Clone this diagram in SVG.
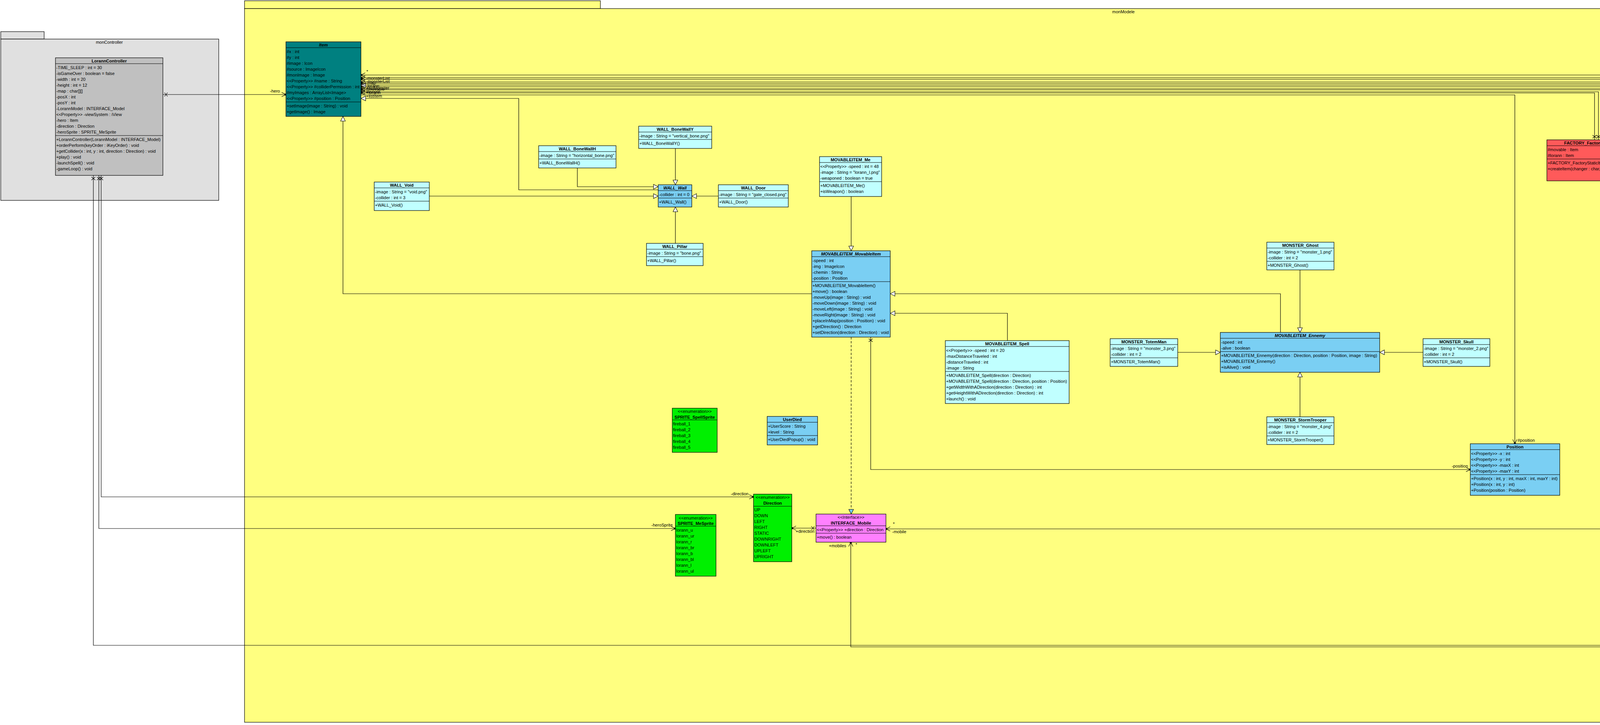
<svg xmlns="http://www.w3.org/2000/svg" width="5719" height="1856" viewBox="0 0 5719 1856">
<style>
text{font-family:"Liberation Sans",Arial,sans-serif;font-size:11px;fill:#000}
.b{font-weight:bold}
.i{font-style:italic}
.c{text-anchor:middle}
.e{text-anchor:end}
.box{stroke:#000;stroke-width:1.2}
.cy{fill:#C0FFFF}.bl{fill:#7ACFF3}.gr{fill:#00F000}.pk{fill:#FF80FF}.rd{fill:#FF5A5A}.gy{fill:#C0C0C0}.tl{fill:#008080}.rp{fill:#FF8080}
.pkg{fill:#E0E0E0;stroke:#000;stroke-width:1.2}
.ypkg{fill:#FFFF80;stroke:#000;stroke-width:1.2}
.ppkg{fill:#FFC0C0;stroke:#000;stroke-width:1.2}
.sep{stroke:#000;stroke-width:1.2;fill:none}
.ln{stroke:#000;stroke-width:1.2;fill:none}
.as{marker-start:url(#xm);marker-end:url(#nav)}
.nv{marker-end:url(#nav)}
.gen{marker-end:url(#tri)}
.real{stroke-dasharray:6 4;marker-end:url(#tribl)}
.wm{font-size:9px;fill:#9a9a9a}
</style>
<defs>
<marker id="tri" markerUnits="userSpaceOnUse" viewBox="0 0 14 14" markerWidth="14" markerHeight="14" refX="13" refY="7" orient="auto"><path d="M1,1 L13,7 L1,13 Z" fill="#fff" stroke="#000" stroke-width="1.1"/></marker>
<marker id="tribl" markerUnits="userSpaceOnUse" viewBox="0 0 14 14" markerWidth="14" markerHeight="14" refX="13" refY="7" orient="auto"><path d="M1,1 L13,7 L1,13 Z" fill="#7ACFF3" stroke="#000" stroke-width="1.1"/></marker>
<marker id="nav" markerUnits="userSpaceOnUse" viewBox="0 0 16 14" markerWidth="16" markerHeight="14" refX="14" refY="7" orient="auto"><path d="M3,1.5 L14,7 L3,12.5" fill="none" stroke="#000" stroke-width="1.1"/><circle cx="13" cy="7" r="2.6" fill="#000"/></marker>
<marker id="xm" markerUnits="userSpaceOnUse" viewBox="0 0 16 14" markerWidth="16" markerHeight="14" refX="0" refY="7" orient="auto"><path d="M4,2 L12,12 M4,12 L12,2" fill="none" stroke="#000" stroke-width="1.1"/></marker>
</defs>
<rect x="0" y="0" width="5719" height="1856" fill="#fff"/>

<g id="packages">
<g id="pkg-monController">
<rect class="pkg" x="2" y="81" width="111" height="19"/>
<rect class="pkg" x="2" y="100" width="558" height="413"/>
<text class="c" x="280" y="112">monController</text>
</g>
<g id="pkg-monModele">
<rect class="ypkg" x="626" y="2" width="911" height="20"/>
<rect class="ypkg" x="626" y="22" width="4500" height="1827"/>
<text class="c" x="2876" y="34">monModele</text>
</g>
<g id="pkg-maVue">
<rect class="pkg" x="5256" y="324" width="91" height="20"/>
<rect class="pkg" x="5256" y="344" width="459" height="238"/>
<text class="c" x="5485" y="357">maVue</text>
</g>
<g id="pkg-java-awt">
<rect class="ppkg" x="5225" y="1237" width="37" height="13"/>
<rect class="ppkg" x="5225" y="1250" width="215" height="147"/>
<text class="c" x="5332" y="1266">java.awt</text>
</g>
<g id="pkg-java-util">
<rect class="ppkg" x="5225" y="1447" width="37" height="13"/>
<rect class="ppkg" x="5225" y="1460" width="215" height="137"/>
<text class="c" x="5332" y="1476">java.util</text>
</g>
</g>

<g id="connectors">
<path class="ln as" d="M417,242H732"/>
<path class="ln as" d="M239,449V1652H4247"/>
<path class="ln as" d="M253,449V1353H1729"/>
<path class="ln as" d="M259,449V1272H1929"/>
<path class="ln gen" d="M2078,752H878V298"/>
<path class="ln gen" d="M1685,486H1328V252H924"/>
<path class="ln gen" d="M1478,430V478H1685"/>
<path class="ln gen" d="M1099,502H1685"/>
<path class="ln gen" d="M1729,380V473"/>
<path class="ln gen" d="M1839,502H1771"/>
<path class="ln gen" d="M1729,623V530"/>
<path class="ln gen" d="M2179,503V642"/>
<path class="ln gen" d="M3278,851V752H2279"/>
<path class="ln gen" d="M2579,872V802H2279"/>
<path class="ln gen" d="M3328,691V851"/>
<path class="ln gen" d="M3015,902H3124"/>
<path class="ln gen" d="M3643,902H3532"/>
<path class="ln gen" d="M3328,1067V953"/>
<path class="ln real" d="M2179,863V1316"/>
<path class="ln as" d="M2229,863V1202H3764"/>
<path class="ln as" d="M2089,1352H2027"/>
<path class="ln as" d="M4247,1354H2268"/>
<path class="ln as" d="M4247,1656H2178V1388"/>
<path class="ln real" d="M4377,1539V1571"/>
<path class="ln as" d="M4377,1317V513"/>
<path class="ln as" d="M4279,404H4199"/>
<path class="ln nv" d="M924,243H3878V1136"/>
<path class="ln as" d="M4389,292V222H924"/>
<path class="ln as" d="M4379,292V227H924"/>
<path class="ln as" d="M4369,292V230H924"/>
<path class="ln as" d="M4092,358V235H924"/>
<path class="ln as" d="M4082,358V238H924"/>
<path class="ln gen" d="M4879,283V218H924"/>
<path class="ln as" d="M4509,1592H5018V214H924"/>
<path class="ln as" d="M4509,1602H5028V210H924"/>
<path class="ln as" d="M4509,1612H5038V203H924"/>
<path class="ln as" d="M5517,382V192H924"/>
<path class="ln as" d="M5507,382V199H924"/>
<path class="ln as" d="M5670,545V1673H4509"/>
<path class="ln gen" d="M4509,1339H5313"/>
<path class="ln gen" d="M4509,1510H5310"/>
<text x="691" y="237">-hero</text>
<text x="1871" y="1268">-direction</text>
<text class="e" x="1722" y="1348">-heroSprite</text>
<text x="4167" y="1649">-LorannModel</text>
<text class="e" x="3758" y="1197">-position</text>
<text x="3885" y="1131">#position</text>
<text x="2037" y="1364">+direction</text>
<text x="2284" y="1365">-mobile</text>
<text x="2286" y="1345">*</text>
<text x="2122" y="1401">+mobiles</text>
<text x="2190" y="1398">*</text>
<text x="4322" y="533">-myMap</text>
<text x="4208" y="415">-factory</text>
<text x="4514" y="1684">-lorannModel</text>
<text x="938" y="187">*</text>
<text x="937" y="204">-monsterList</text>
<text x="937" y="212">-monsterList</text>
<text x="937" y="216">-map</text>
<text x="937" y="224">-lorann</text>
<text x="937" y="229">+listMonster</text>
<text x="937" y="232">#movable</text>
<text x="937" y="239">#lorann</text>
<text x="937" y="241">+lorann</text>
<text x="937" y="250">+listItem</text>
</g>

<g id="LorannController">
<rect class="box gy" x="142" y="148" width="275" height="301"/>
<path class="sep" d="M142,163H417M142,347H417"/>
<text class="b c" x="279.5" y="159.5">LorannController</text>
<text x="144" y="177">-TIME_SLEEP : int = 30</text>
<text x="144" y="192">-isGameOver : boolean = false</text>
<text x="144" y="207">-width : int = 20</text>
<text x="144" y="222">-height : int = 12</text>
<text x="144" y="237">-map : char[][]</text>
<text x="144" y="252">-posX : int</text>
<text x="144" y="267">-posY : int</text>
<text x="144" y="282">-LorannModel : INTERFACE_Model</text>
<text x="144" y="297">&lt;&lt;Property&gt;&gt; -viewSystem : iView</text>
<text x="144" y="312">-hero : Item</text>
<text x="144" y="327">-direction : Direction</text>
<text x="144" y="342">-heroSprite : SPRITE_MeSprite</text>
<text x="144" y="361">+LorannController(LorannModel : INTERFACE_Model)</text>
<text x="144" y="376">+orderPerform(keyOrder : iKeyOrder) : void</text>
<text x="144" y="391">+getCollider(x : int, y : int, direction : Direction) : void</text>
<text x="144" y="406">+play() : void</text>
<text x="144" y="421">-launchSpell() : void</text>
<text x="144" y="436">-gameLoop() : void</text>
</g>

<g id="Item">
<rect class="box tl" x="732" y="107" width="192" height="191"/>
<path class="sep" d="M732,122H924M732,261H924"/>
<text class="b i c" x="828" y="118.5">Item</text>
<text x="734" y="136">#x : int</text>
<text x="734" y="151">#y : int</text>
<text x="734" y="166">#image : Icon</text>
<text x="734" y="181">#source : ImageIcon</text>
<text x="734" y="196">#monImage : Image</text>
<text x="734" y="211">&lt;&lt;Property&gt;&gt; #name : String</text>
<text x="734" y="226">&lt;&lt;Property&gt;&gt; #colliderPermission : int</text>
<text x="734" y="241">#myImages : ArrayList&lt;Image&gt;</text>
<text x="734" y="256">&lt;&lt;Property&gt;&gt; #position : Position</text>
<text x="734" y="275">+setImage(image : String) : void</text>
<text x="734" y="290">+getImage() : Image</text>
</g>

<g id="WALL_Void">
<rect class="box cy" x="958" y="466" width="141" height="73"/>
<path class="sep" d="M958,481H1099M958,515H1099"/>
<text class="b c" x="1028.5" y="477.5">WALL_Void</text>
<text x="960" y="495">-image : String = "void.png"</text>
<text x="960" y="510">-collider : int = 3</text>
<text x="960" y="529">+WALL_Void()</text>
</g>

<g id="WALL_BoneWallH">
<rect class="box cy" x="1379" y="373" width="198" height="57"/>
<path class="sep" d="M1379,388H1577M1379,407H1577"/>
<text class="b c" x="1478" y="384.5">WALL_BoneWallH</text>
<text x="1381" y="402">-image : String = "horizontal_bone.png"</text>
<text x="1381" y="421">+WALL_BoneWallH()</text>
</g>

<g id="WALL_BoneWallY">
<rect class="box cy" x="1635" y="323" width="187" height="57"/>
<path class="sep" d="M1635,338H1822M1635,357H1822"/>
<text class="b c" x="1728.5" y="334.5">WALL_BoneWallY</text>
<text x="1637" y="352">-image : String = "vertical_bone.png"</text>
<text x="1637" y="371">+WALL_BoneWallY()</text>
</g>

<g id="WALL_Wall">
<rect class="box bl" x="1685" y="473" width="86" height="57"/>
<path class="sep" d="M1685,488H1771M1685,507H1771"/>
<text class="b i c" x="1728" y="484.5">WALL_Wall</text>
<text x="1687" y="502">-collider : int = 0</text>
<text x="1687" y="521">+WALL_Wall()</text>
</g>

<g id="WALL_Door">
<rect class="box cy" x="1839" y="473" width="179" height="57"/>
<path class="sep" d="M1839,488H2018M1839,507H2018"/>
<text class="b c" x="1928.5" y="484.5">WALL_Door</text>
<text x="1841" y="502">-image : String = "gate_closed.png"</text>
<text x="1841" y="521">+WALL_Door()</text>
</g>

<g id="WALL_Pillar">
<rect class="box cy" x="1655" y="623" width="145" height="57"/>
<path class="sep" d="M1655,638H1800M1655,657H1800"/>
<text class="b c" x="1727.5" y="634.5">WALL_Pillar</text>
<text x="1657" y="652">-image : String = "bone.png"</text>
<text x="1657" y="671">+WALL_Pillar()</text>
</g>

<g id="MOVABLEITEM_Me">
<rect class="box cy" x="2098" y="401" width="159" height="102"/>
<path class="sep" d="M2098,416H2257M2098,465H2257"/>
<text class="b c" x="2177.5" y="412.5">MOVABLEITEM_Me</text>
<text x="2100" y="430">&lt;&lt;Property&gt;&gt; -speed : int = 48</text>
<text x="2100" y="445">-image : String = "lorann_l.png"</text>
<text x="2100" y="460">-weaponed : boolean = true</text>
<text x="2100" y="479">+MOVABLEITEM_Me()</text>
<text x="2100" y="494">+isWeapon() : boolean</text>
</g>

<g id="MOVABLEITEM_MovableItem">
<rect class="box bl" x="2078" y="642" width="201" height="221"/>
<path class="sep" d="M2078,657H2279M2078,721H2279"/>
<text class="b i c" x="2178.5" y="653.5">MOVABLEITEM_MovableItem</text>
<text x="2080" y="671">-speed : int</text>
<text x="2080" y="686">-img : ImageIcon</text>
<text x="2080" y="701">-chemin : String</text>
<text x="2080" y="716">-position : Position</text>
<text x="2080" y="735">+MOVABLEITEM_MovableItem()</text>
<text x="2080" y="750">+move() : boolean</text>
<text x="2080" y="765">-moveUp(image : String) : void</text>
<text x="2080" y="780">-moveDown(image : String) : void</text>
<text x="2080" y="795">-moveLeft(image : String) : void</text>
<text x="2080" y="810">-moveRight(image : String) : void</text>
<text x="2080" y="825">+placeInMap(position : Position) : void</text>
<text x="2080" y="840">+getDirection() : Direction</text>
<text x="2080" y="855">+setDirection(direction : Direction) : void</text>
</g>

<g id="MOVABLEITEM_Spell">
<rect class="box cy" x="2420" y="872" width="317" height="161"/>
<path class="sep" d="M2420,887H2737M2420,951H2737"/>
<text class="b c" x="2578.5" y="883.5">MOVABLEITEM_Spell</text>
<text x="2422" y="901">&lt;&lt;Property&gt;&gt; -speed : int = 20</text>
<text x="2422" y="916">-maxDistanceTraveled : int</text>
<text x="2422" y="931">-distanceTraveled : int</text>
<text x="2422" y="946">-image : String</text>
<text x="2422" y="965">+MOVABLEITEM_Spell(direction : Direction)</text>
<text x="2422" y="980">+MOVABLEITEM_Spell(direction : Direction, position : Position)</text>
<text x="2422" y="995">+getWidthWithADirection(direction : Direction) : int</text>
<text x="2422" y="1010">+getHeightWithADirection(direction : Direction) : int</text>
<text x="2422" y="1025">+launch() : void</text>
</g>

<g id="MONSTER_TotemMan">
<rect class="box cy" x="2842" y="867" width="173" height="71"/>
<path class="sep" d="M2842,882H3015M2842,916H3015"/>
<text class="b c" x="2928.5" y="878.5">MONSTER_TotemMan</text>
<text x="2844" y="896">-image : String = "monster_3.png"</text>
<text x="2844" y="911">-collider : int = 2</text>
<text x="2844" y="930">+MONSTER_TotemMan()</text>
</g>

<g id="MOVABLEITEM_Ennemy">
<rect class="box bl" x="3124" y="851" width="408" height="102"/>
<path class="sep" d="M3124,866H3532M3124,900H3532"/>
<text class="b i c" x="3328" y="862.5">MOVABLEITEM_Ennemy</text>
<text x="3126" y="880">-speed : int</text>
<text x="3126" y="895">-alive : boolean</text>
<text x="3126" y="914">+MOVABLEITEM_Ennemy(direction : Direction, position : Position, image : String)</text>
<text x="3126" y="929">+MOVABLEITEM_Ennemy()</text>
<text x="3126" y="944">+isAlive() : void</text>
</g>

<g id="MONSTER_Skull">
<rect class="box cy" x="3643" y="867" width="171" height="71"/>
<path class="sep" d="M3643,882H3814M3643,916H3814"/>
<text class="b c" x="3728.5" y="878.5">MONSTER_Skull</text>
<text x="3645" y="896">-image : String = "monster_2.png"</text>
<text x="3645" y="911">-collider : int = 2</text>
<text x="3645" y="930">+MONSTER_Skull()</text>
</g>

<g id="MONSTER_StormTrooper">
<rect class="box cy" x="3243" y="1067" width="172" height="71"/>
<path class="sep" d="M3243,1082H3415M3243,1116H3415"/>
<text class="b c" x="3329" y="1078.5">MONSTER_StormTrooper</text>
<text x="3245" y="1096">-image : String = "monster_4.png"</text>
<text x="3245" y="1111">-collider : int = 2</text>
<text x="3245" y="1130">+MONSTER_StormTrooper()</text>
</g>

<g id="MONSTER_Ghost">
<rect class="box cy" x="3243" y="620" width="172" height="71"/>
<path class="sep" d="M3243,635H3415M3243,669H3415"/>
<text class="b c" x="3329" y="631.5">MONSTER_Ghost</text>
<text x="3245" y="649">-image : String = "monster_1.png"</text>
<text x="3245" y="664">-collider : int = 2</text>
<text x="3245" y="683">+MONSTER_Ghost()</text>
</g>

<g id="FACTORY_FactoryStaticItem">
<rect class="box rd" x="3960" y="358" width="239" height="105"/>
<path class="sep" d="M3960,373H4199M3960,407H4199"/>
<text class="b c" x="4079.5" y="369.5">FACTORY_FactoryStaticItem</text>
<text x="3962" y="387">#movable : Item</text>
<text x="3962" y="402">#lorann : Item</text>
<text x="3962" y="421">+FACTORY_FactoryStaticItem()</text>
<text x="3962" y="436">+createItem(changer : char, x : int, y : int) : Item</text>
</g>

<g id="Map">
<rect class="box bl" x="4279" y="292" width="198" height="221"/>
<path class="sep" d="M4279,307H4477M4279,476H4477"/>
<text class="b c" x="4378" y="303.5">Map</text>
<text x="4281" y="321">&lt;&lt;Property&gt;&gt; -level : String</text>
<text x="4281" y="336">-cast : char[]</text>
<text x="4281" y="351">#map2D : char[][]</text>
<text x="4281" y="366">&lt;&lt;Property&gt;&gt; -row : int = 12</text>
<text x="4281" y="381">&lt;&lt;Property&gt;&gt; -columm : int = 20</text>
<text x="4281" y="396">&lt;&lt;Property&gt;&gt; -width : int = 48</text>
<text x="4281" y="411">&lt;&lt;Property&gt;&gt; -height : int = 48</text>
<text x="4281" y="426">&lt;&lt;Property&gt;&gt; +listItem : Item[][]</text>
<text x="4281" y="441">&lt;&lt;Property&gt;&gt; +listMonster : Item</text>
<text x="4281" y="456">+lorann : Item</text>
<text x="4281" y="471">-factory : FACTORY_FactoryStaticItem</text>
<text x="4281" y="490">+Map()</text>
<text x="4281" y="505">+buildMap(level : String) : void</text>
</g>

<g id="STACKABLE_SuperBall">
<rect class="box cy" x="4540" y="267" width="176" height="82"/>
<path class="sep" d="M4540,282H4716M4540,316H4716"/>
<text class="b c" x="4628" y="278.5">STACKABLE_SuperBall</text>
<text x="4542" y="296">-image : String = "crystal_ball.png"</text>
<text x="4542" y="311">-collider : int = 1</text>
<text x="4542" y="330">+STACKABLE_SuperBall()</text>
</g>

<g id="STACKABLE_StackableItem">
<rect class="box bl" x="4800" y="283" width="157" height="39"/>
<path class="sep" d="M4800,298H4957"/>
<text class="b i c" x="4878.5" y="294.5">STACKABLE_StackableItem</text>
</g>

<g id="STACKABLE_Purse">
<rect class="box cy" x="4804" y="417" width="151" height="82"/>
<path class="sep" d="M4804,432H4955M4804,466H4955"/>
<text class="b c" x="4879.5" y="428.5">STACKABLE_Purse</text>
<text x="4806" y="446">-image : String = "purse.png"</text>
<text x="4806" y="461">-collider : int = 1</text>
<text x="4806" y="480">+STACKABLE_Purse()</text>
</g>

<g id="GraphicsBuilder">
<rect class="box gy" x="5317" y="382" width="387" height="163"/>
<path class="sep" d="M5317,397H5704M5317,476H5704"/>
<text class="b c" x="5510.5" y="393.5">GraphicsBuilder</text>
<text x="5319" y="411">~imageWidth : int = 48</text>
<text x="5319" y="426">~imageHeight : int = 48</text>
<text x="5319" y="441">-lorannModel : INTERFACE_Model</text>
<text x="5319" y="456">-map : Item[][]</text>
<text x="5319" y="471">-monsterList : Item</text>
<text x="5319" y="490">+GraphicsBuilder(lorannModel : INTERFACE_Model)</text>
<text x="5319" y="505">+applyModelToGraphic(graphics : Graphics, observer : ImageObserver) : void</text>
<text x="5319" y="520">+getGlobalWidth() : int</text>
<text x="5319" y="535">+getGlobalHeight() : int</text>
</g>

<g id="SPRITE_SpellSprite">
<rect class="box gr" x="1721" y="1045" width="115" height="113"/>
<path class="sep" d="M1721,1075H1836"/>
<text class="c" x="1778.5" y="1057">&lt;&lt;enumeration&gt;&gt;</text>
<text class="b c" x="1778.5" y="1072">SPRITE_SpellSprite</text>
<text x="1723" y="1089">fireball_1</text>
<text x="1723" y="1104">fireball_2</text>
<text x="1723" y="1119">fireball_3</text>
<text x="1723" y="1134">fireball_4</text>
<text x="1723" y="1149">fireball_5</text>
</g>

<g id="UserDied">
<rect class="box bl" x="1964" y="1066" width="129" height="73"/>
<path class="sep" d="M1964,1081H2093M1964,1115H2093"/>
<text class="b c" x="2028.5" y="1077.5">UserDied</text>
<text x="1966" y="1095">+UserScore : String</text>
<text x="1966" y="1110">+level : String</text>
<text x="1966" y="1129">+UserDiedPopup() : void</text>
</g>

<g id="Direction">
<rect class="box gr" x="1929" y="1265" width="98" height="173"/>
<path class="sep" d="M1929,1296H2027"/>
<text class="c" x="1978" y="1277">&lt;&lt;enumeration&gt;&gt;</text>
<text class="b c" x="1978" y="1292">Direction</text>
<text x="1931" y="1309">UP</text>
<text x="1931" y="1324">DOWN</text>
<text x="1931" y="1339">LEFT</text>
<text x="1931" y="1354">RIGHT</text>
<text x="1931" y="1369">STATIC</text>
<text x="1931" y="1384">DOWNRIGHT</text>
<text x="1931" y="1399">DOWNLEFT</text>
<text x="1931" y="1414">UPLEFT</text>
<text x="1931" y="1429">UPRIGHT</text>
</g>

<g id="SPRITE_MeSprite">
<rect class="box gr" x="1729" y="1317" width="104" height="158"/>
<path class="sep" d="M1729,1347H1833"/>
<text class="c" x="1781" y="1330">&lt;&lt;enumeration&gt;&gt;</text>
<text class="b c" x="1781" y="1344">SPRITE_MeSprite</text>
<text x="1731" y="1361">lorann_u</text>
<text x="1731" y="1376">lorann_ur</text>
<text x="1731" y="1391">lorann_r</text>
<text x="1731" y="1406">lorann_br</text>
<text x="1731" y="1421">lorann_b</text>
<text x="1731" y="1436">lorann_bl</text>
<text x="1731" y="1451">lorann_l</text>
<text x="1731" y="1466">lorann_ul</text>
</g>

<g id="INTERFACE_Mobile">
<rect class="box pk" x="2089" y="1316" width="179" height="72"/>
<path class="sep" d="M2089,1346H2268M2089,1365H2268"/>
<text class="c" x="2178.5" y="1328">&lt;&lt;Interface&gt;&gt;</text>
<text class="b c" x="2178.5" y="1343">INTERFACE_Mobile</text>
<text x="2091" y="1360">&lt;&lt;Property&gt;&gt; +direction : Direction</text>
<text x="2091" y="1379">+move() : boolean</text>
</g>

<g id="Position">
<rect class="box bl" x="3764" y="1136" width="229" height="132"/>
<path class="sep" d="M3764,1151H3993M3764,1215H3993"/>
<text class="b c" x="3878.5" y="1147.5">Position</text>
<text x="3766" y="1165">&lt;&lt;Property&gt;&gt; -x : int</text>
<text x="3766" y="1180">&lt;&lt;Property&gt;&gt; -y : int</text>
<text x="3766" y="1195">&lt;&lt;Property&gt;&gt; -maxX : int</text>
<text x="3766" y="1210">&lt;&lt;Property&gt;&gt; -maxY : int</text>
<text x="3766" y="1229">+Position(x : int, y : int, maxX : int, maxY : int)</text>
<text x="3766" y="1244">+Position(x : int, y : int)</text>
<text x="3766" y="1259">+Position(position : Position)</text>
</g>

<g id="LorannModel">
<rect class="box bl" x="4247" y="1317" width="262" height="222"/>
<path class="sep" d="M4247,1332H4509M4247,1441H4509"/>
<text class="b c" x="4378" y="1328.5">LorannModel</text>
<text x="4249" y="1346">&lt;&lt;Property&gt;&gt; +map : char[][]</text>
<text x="4249" y="1361">&lt;&lt;Property&gt;&gt; -level : String</text>
<text x="4249" y="1376">-mobile : INTERFACE_Mobile</text>
<text x="4249" y="1391">-myMap : Map</text>
<text x="4249" y="1406">&lt;&lt;Property&gt;&gt; -itemList : Item[][]</text>
<text x="4249" y="1421">&lt;&lt;Property&gt;&gt; -lorann : Item</text>
<text x="4249" y="1436">&lt;&lt;Property&gt;&gt; -monsterList : ArrayList&lt;Item&gt;</text>
<text x="4249" y="1455">+LorannModel()</text>
<text x="4249" y="1470">+mapCreator(level : String) : void</text>
<text x="4249" y="1485">+addMobile(Mobile : INTERFACE_Mobile) : void</text>
<text x="4249" y="1500">+removeMobile(Mobile : INTERFACE_Mobile) : void</text>
<text x="4249" y="1515">+getMobiles() : ArrayList&lt;INTERFACE_Mobile&gt;</text>
<text x="4249" y="1530">+setMobilesHavedMove() : void</text>
</g>

<g id="INTERFACE_Model">
<rect class="box pk" x="4247" y="1571" width="262" height="161"/>
<path class="sep" d="M4247,1601H4509M4247,1680H4509"/>
<text class="c" x="4378" y="1583">&lt;&lt;Interface&gt;&gt;</text>
<text class="b c" x="4378" y="1598">INTERFACE_Model</text>
<text x="4249" y="1615">&lt;&lt;Property&gt;&gt; +map : char[][]</text>
<text x="4249" y="1630">&lt;&lt;Property&gt;&gt; +mobiles : INTERFACE_Mobile</text>
<text x="4249" y="1645">&lt;&lt;Property&gt;&gt; +itemList : Item[][]</text>
<text x="4249" y="1660">&lt;&lt;Property&gt;&gt; +monsterList : Item</text>
<text x="4249" y="1675">&lt;&lt;Property&gt;&gt; +lorann : Item</text>
<text x="4249" y="1694">+addMobile(Mobile : INTERFACE_Mobile) : void</text>
<text x="4249" y="1709">+removeMobile(Mobile : INTERFACE_Mobile) : void</text>
<text x="4249" y="1724">+setMobilesHavedMove() : void</text>
</g>

<g id="Image">
<rect class="box rp" x="5313" y="1287" width="67" height="60"/>
<path class="sep" d="M5313,1302H5380M5313,1322H5380"/>
<text class="b c" x="5346.5" y="1298.5">Image</text>
</g>

<g id="Observable">
<rect class="box rp" x="5310" y="1497" width="75" height="55"/>
<path class="sep" d="M5310,1512H5385M5310,1532H5385"/>
<text class="b c" x="5347.5" y="1508.5">Observable</text>
</g>

<text class="wm" x="5510" y="1846">Powered by Visual Paradigm Community Edition</text>
</svg>
